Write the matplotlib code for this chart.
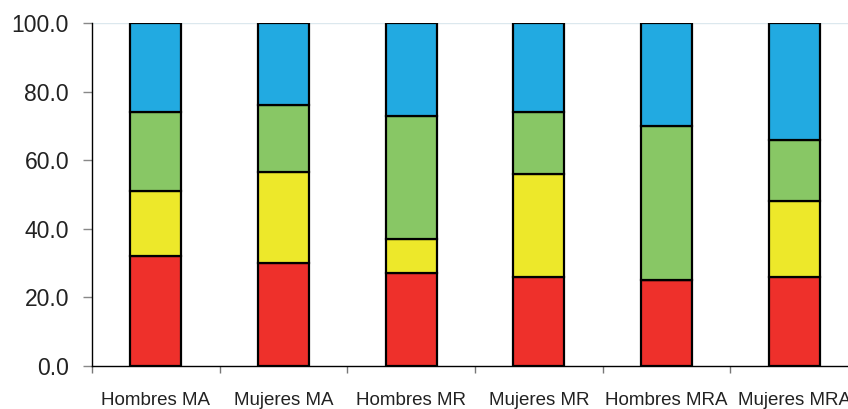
import numpy as np
import matplotlib.pyplot as plt

plt.rcParams["font.family"] = ["Liberation Sans", "DejaVu Sans"]

categories = ["Hombres MA", "Mujeres MA", "Hombres MR", "Mujeres MR", "Hombres MRA", "Mujeres MRA"]
rojo = [32, 30, 27, 26, 25, 26]
amarillo = [19, 26.5, 10, 30, 0, 22]
verde = [23, 19.5, 36, 18, 45, 18]
azul = [26, 24, 27, 26, 30, 34]

colores = ["#EE302B", "#EDE82A", "#88C765", "#22AAE1"]
series = [rojo, amarillo, verde, azul]

fig = plt.figure(figsize=(8.48, 4.09), dpi=100)
ax = fig.add_axes([92 / 848, 43 / 409, 766 / 848, 343 / 409])

x = np.arange(len(categories))
bottom = np.zeros(len(categories))
for vals, col in zip(series, colores):
    vals = np.array(vals, dtype=float)
    ax.bar(x, vals, width=0.4, bottom=bottom, color=col, edgecolor="black", linewidth=1.6, zorder=3)
    bottom += vals

ax.set_xlim(-0.5, len(categories) - 0.5)
ax.set_ylim(0, 100)
ax.set_yticks(np.arange(0, 101, 20))
ax.set_yticklabels([f"{v:.1f}" for v in np.arange(0, 101, 20)])
ax.tick_params(axis="y", labelsize=16.5, length=6.5, width=1, color="#888888", pad=10, labelcolor="#222222")

ax.set_xticks(x)
ax.set_xticklabels(categories)
ax.tick_params(axis="x", which="major", length=0, labelsize=13.5, pad=19, labelcolor="#222222")
ax.set_xticks(np.arange(-0.5, len(categories), 1), minor=True)
ax.tick_params(axis="x", which="minor", length=5, width=1, color="#777777", direction="out")

ax.axhline(100, color="#dce8ee", linewidth=1, zorder=1)
for side in ["top", "right"]:
    ax.spines[side].set_visible(False)
ax.spines["left"].set_color("black")
ax.spines["bottom"].set_color("black")
ax.spines["left"].set_linewidth(1)
ax.spines["bottom"].set_linewidth(1)

fig.savefig("out.png", dpi=100)
